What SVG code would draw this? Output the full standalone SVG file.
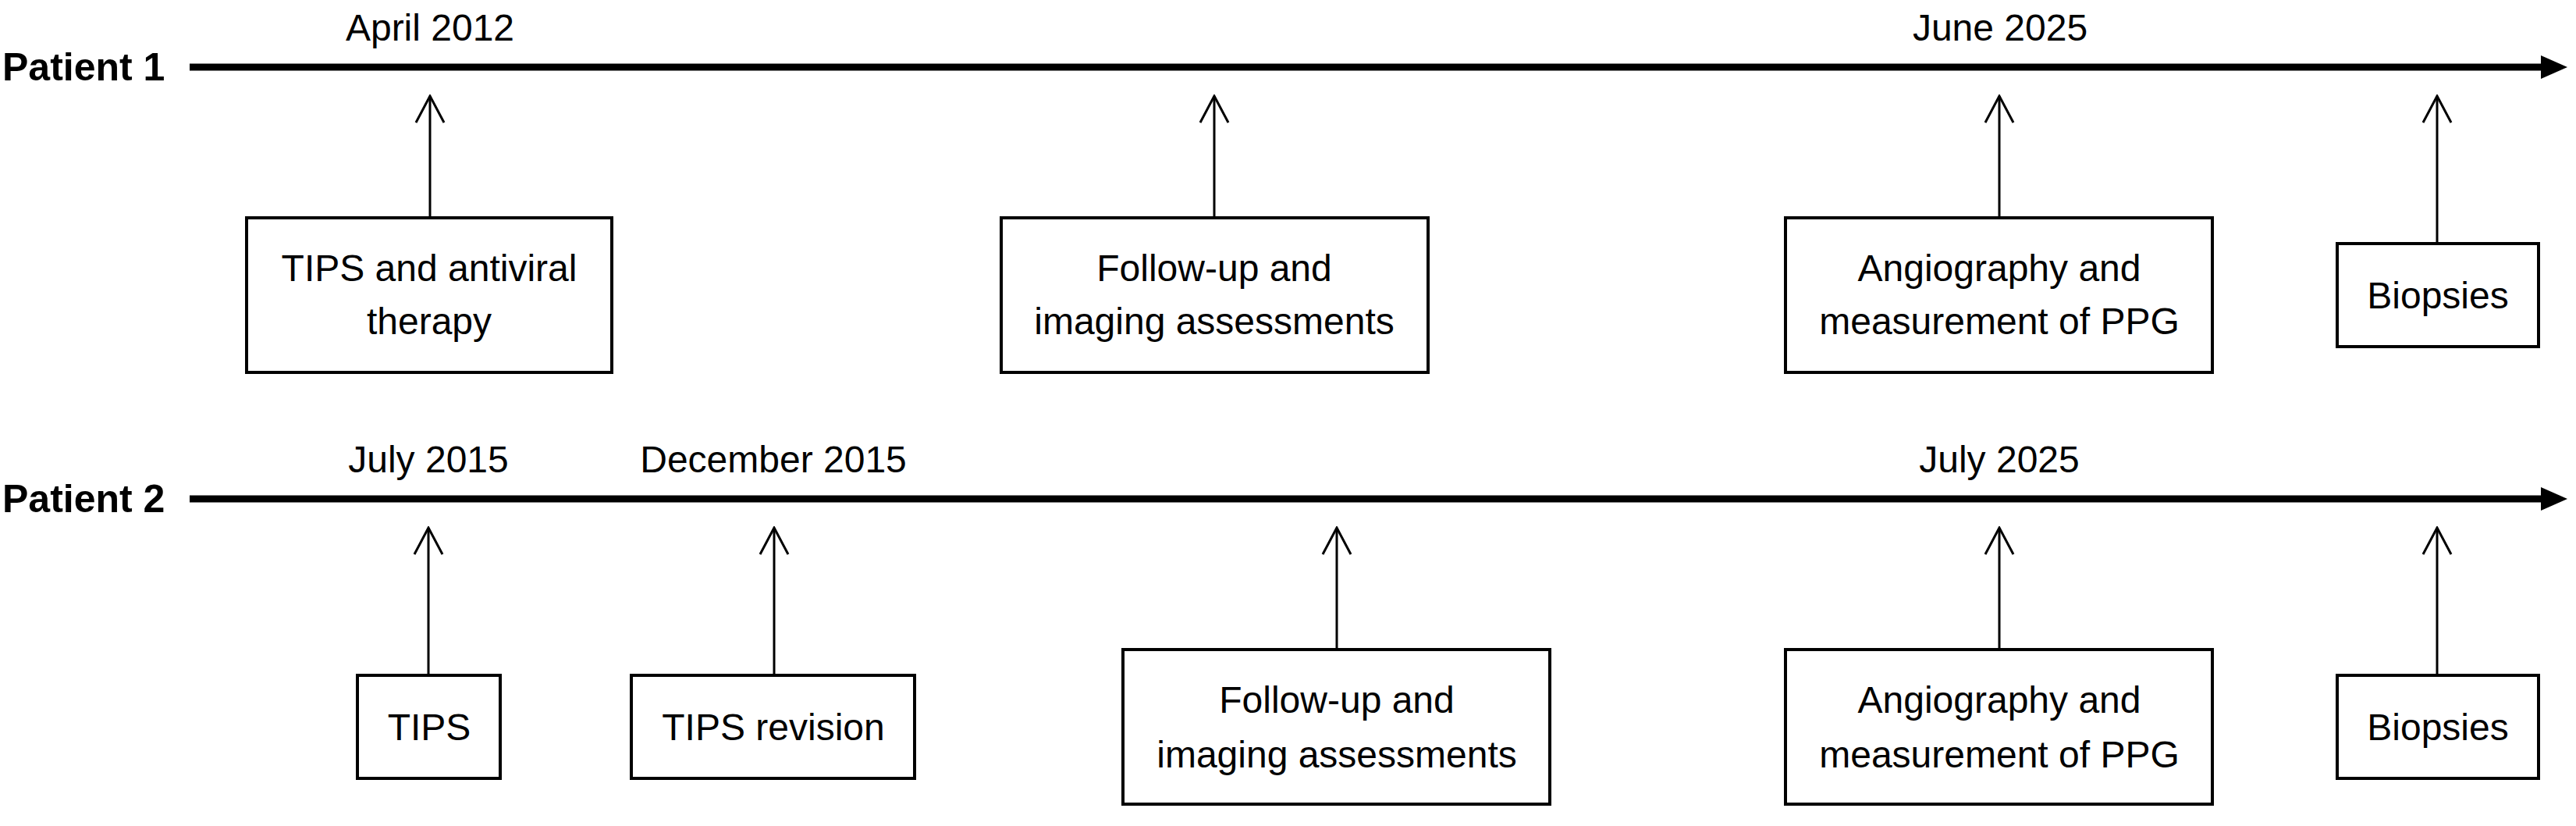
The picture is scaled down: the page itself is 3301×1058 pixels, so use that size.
<svg xmlns="http://www.w3.org/2000/svg" width="3301" height="1058" viewBox="0 0 3301 1058">
<style>
text{font-family:"Liberation Sans",Arial,sans-serif;font-size:48px;fill:#000;text-anchor:middle}
.pl{font-weight:bold;text-anchor:start;font-size:50px}
.box{fill:#fff;stroke:#000;stroke-width:4}
.ar{stroke:#000;stroke-width:3;fill:none}
.tl{stroke:#000;stroke-width:9}
</style>
<defs>
<marker id="open" viewBox="0 0 40 40" refX="38" refY="20" markerWidth="40" markerHeight="40" markerUnits="userSpaceOnUse" orient="auto">
<path d="M4,2 L38,20 L4,38" fill="none" stroke="#000" stroke-width="3"/>
</marker>
</defs>
<rect width="3301" height="1058" fill="#fff"/>
<g id="timelines">
<text class="pl" x="3" y="103">Patient 1</text>
<line class="tl" x1="243" y1="86" x2="3262" y2="86"/>
<polygon points="3256,71 3290,86 3256,101"/>
<text class="pl" x="3" y="656">Patient 2</text>
<line class="tl" x1="243" y1="639" x2="3262" y2="639"/>
<polygon points="3256,624 3290,639 3256,654"/>
<text x="551" y="52">April 2012</text>
<text x="2563" y="52">June 2025</text>
<text x="549" y="605">July 2015</text>
<text x="991" y="605">December 2015</text>
<text x="2562" y="605">July 2025</text>
</g>
<g id="connectors">
<line class="ar" x1="551" y1="277" x2="551" y2="123" marker-end="url(#open)"/>
<line class="ar" x1="1556" y1="277" x2="1556" y2="123" marker-end="url(#open)"/>
<line class="ar" x1="2562" y1="277" x2="2562" y2="123" marker-end="url(#open)"/>
<line class="ar" x1="3123" y1="312" x2="3123" y2="123" marker-end="url(#open)"/>
<line class="ar" x1="549" y1="865" x2="549" y2="676" marker-end="url(#open)"/>
<line class="ar" x1="992" y1="865" x2="992" y2="676" marker-end="url(#open)"/>
<line class="ar" x1="1713" y1="831" x2="1713" y2="676" marker-end="url(#open)"/>
<line class="ar" x1="2562" y1="831" x2="2562" y2="676" marker-end="url(#open)"/>
<line class="ar" x1="3123" y1="865" x2="3123" y2="676" marker-end="url(#open)"/>
</g>
<g id="p1-tips"><rect class="box" x="316" y="279" width="468" height="198"/><text x="550" y="360">TIPS and antiviral</text><text x="550" y="428">therapy</text></g>
<g id="p1-follow"><rect class="box" x="1283" y="279" width="547" height="198"/><text x="1556" y="360">Follow-up and</text><text x="1556" y="428">imaging assessments</text></g>
<g id="p1-angio"><rect class="box" x="2288" y="279" width="547" height="198"/><text x="2562" y="360">Angiography and</text><text x="2562" y="428">measurement of PPG</text></g>
<g id="p1-biopsies"><rect class="box" x="2995" y="312" width="258" height="132"/><text x="3124" y="395">Biopsies</text></g>
<g id="p2-tips"><rect class="box" x="458" y="865" width="183" height="132"/><text x="550" y="948">TIPS</text></g>
<g id="p2-revision"><rect class="box" x="809" y="865" width="363" height="132"/><text x="991" y="948">TIPS revision</text></g>
<g id="p2-follow"><rect class="box" x="1439" y="832" width="547" height="198"/><text x="1713" y="913">Follow-up and</text><text x="1713" y="983">imaging assessments</text></g>
<g id="p2-angio"><rect class="box" x="2288" y="832" width="547" height="198"/><text x="2562" y="913">Angiography and</text><text x="2562" y="983">measurement of PPG</text></g>
<g id="p2-biopsies"><rect class="box" x="2995" y="865" width="258" height="132"/><text x="3124" y="948">Biopsies</text></g>
</svg>
